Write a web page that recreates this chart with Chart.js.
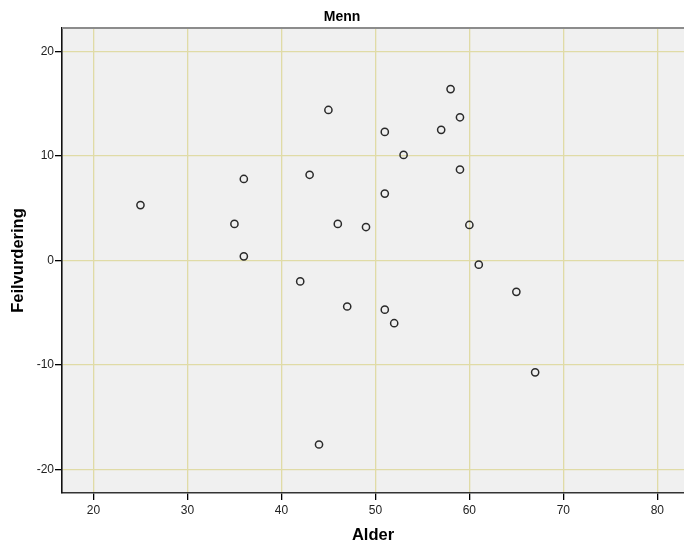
<!DOCTYPE html>
<html>
<head>
<meta charset="utf-8">
<script src="https://cdn.jsdelivr.net/npm/chart.js@4"></script>
<style>
  html, body { margin: 0; padding: 0; background: #ffffff; }
  #wrap { width: 684px; height: 546px; }
</style>
</head>
<body>
<div id="wrap"><canvas id="c" width="684" height="546"></canvas></div>
<script>
// Age (Alder) and misjudgement (Feilvurdering) for the men in the sample
const alder = [25, 45, 58, 59, 57, 51, 53, 36, 43, 51, 59, 35, 46, 49, 60, 36, 61, 42, 47, 51, 52, 65, 67, 44];
const feilvurdering = [5.3, 14.4, 16.4, 13.7, 12.5, 12.3, 10.1, 7.8, 8.2, 6.4, 8.7, 3.5, 3.5, 3.2, 3.4, 0.4, -0.4, -2.0, -4.4, -4.7, -6.0, -3.0, -10.7, -17.6];
const xTicks = [20, 30, 40, 50, 60, 70, 80];
const yTicks = [-20, -10, 0, 10, 20];

const FONT = "'Liberation Sans', Arial, sans-serif";
const GRID = 'rgb(224,219,166)';

// Light grey plot background and grey frame line on top
const plotFrame = {
  id: 'plotFrame',
  beforeDraw(chart) {
    const { ctx, chartArea: a } = chart;
    ctx.save();
    ctx.fillStyle = '#f0f0f0';
    ctx.fillRect(a.left, a.top, a.right - a.left, a.bottom - a.top);
    ctx.restore();
  },
  afterDraw(chart) {
    const { ctx, chartArea: a } = chart;
    ctx.save();
    ctx.strokeStyle = '#8c8c8c';
    ctx.lineWidth = 2;
    ctx.beginPath();
    ctx.moveTo(a.left, a.top);
    ctx.lineTo(a.right, a.top);
    ctx.stroke();
    ctx.restore();
  }
};

new Chart(document.getElementById('c'), {
  type: 'scatter',
  data: {
    datasets: [{
      data: alder.map((a, i) => ({ x: a, y: feilvurdering[i] })),
      pointRadius: 3.6,
      pointHoverRadius: 3.6,
      pointBorderWidth: 1.5,
      pointBorderColor: '#2a2a2a',
      pointBackgroundColor: 'rgba(0,0,0,0)'
    }]
  },
  options: {
    responsive: false,
    animation: false,
    events: [],
    layout: { padding: 0, autoPadding: false },
    plugins: {
      legend: { display: false },
      tooltip: { enabled: false },
      title: {
        display: true,
        text: 'Menn',
        color: '#000000',
        font: { family: FONT, size: 14, weight: 'bold', lineHeight: 1.2 },
        padding: { top: 9, bottom: 2.2 }
      }
    },
    scales: {
      x: {
        type: 'linear',
        min: 16.65,
        max: 82.84,
        afterBuildTicks: s => { s.ticks = xTicks.map(v => ({ value: v })); },
        afterFit: s => { s.height = 53; },
        ticks: {
          color: '#222222',
          font: { family: FONT, size: 12 },
          padding: 3,
          maxRotation: 0
        },
        grid: {
          color: GRID,
          lineWidth: 1.3,
          tickColor: '#000000',
          tickLength: 7,
          tickWidth: 1.3
        },
        border: { display: true, color: '#333333', width: 1.6 },
        title: {
          display: true,
          text: 'Alder',
          color: '#000000',
          font: { family: FONT, size: 16.5, weight: 'bold', lineHeight: 1.2 },
          padding: { top: 0, bottom: 1 }
        }
      },
      y: {
        type: 'linear',
        min: -22.24,
        max: 22.24,
        afterBuildTicks: s => { s.ticks = yTicks.map(v => ({ value: v })); },
        afterFit: s => { s.width = 62; },
        ticks: {
          color: '#222222',
          font: { family: FONT, size: 12 },
          padding: 1
        },
        grid: {
          color: GRID,
          lineWidth: 1.3,
          tickColor: '#000000',
          tickLength: 7,
          tickWidth: 1.3
        },
        border: { display: true, color: '#111111', width: 1.6 },
        title: {
          display: true,
          text: 'Feilvurdering',
          color: '#000000',
          font: { family: FONT, size: 16.5, weight: 'bold', lineHeight: 1.2 },
          padding: { top: 9, bottom: 0 }
        }
      }
    }
  },
  plugins: [plotFrame]
});
</script>
</body>
</html>
